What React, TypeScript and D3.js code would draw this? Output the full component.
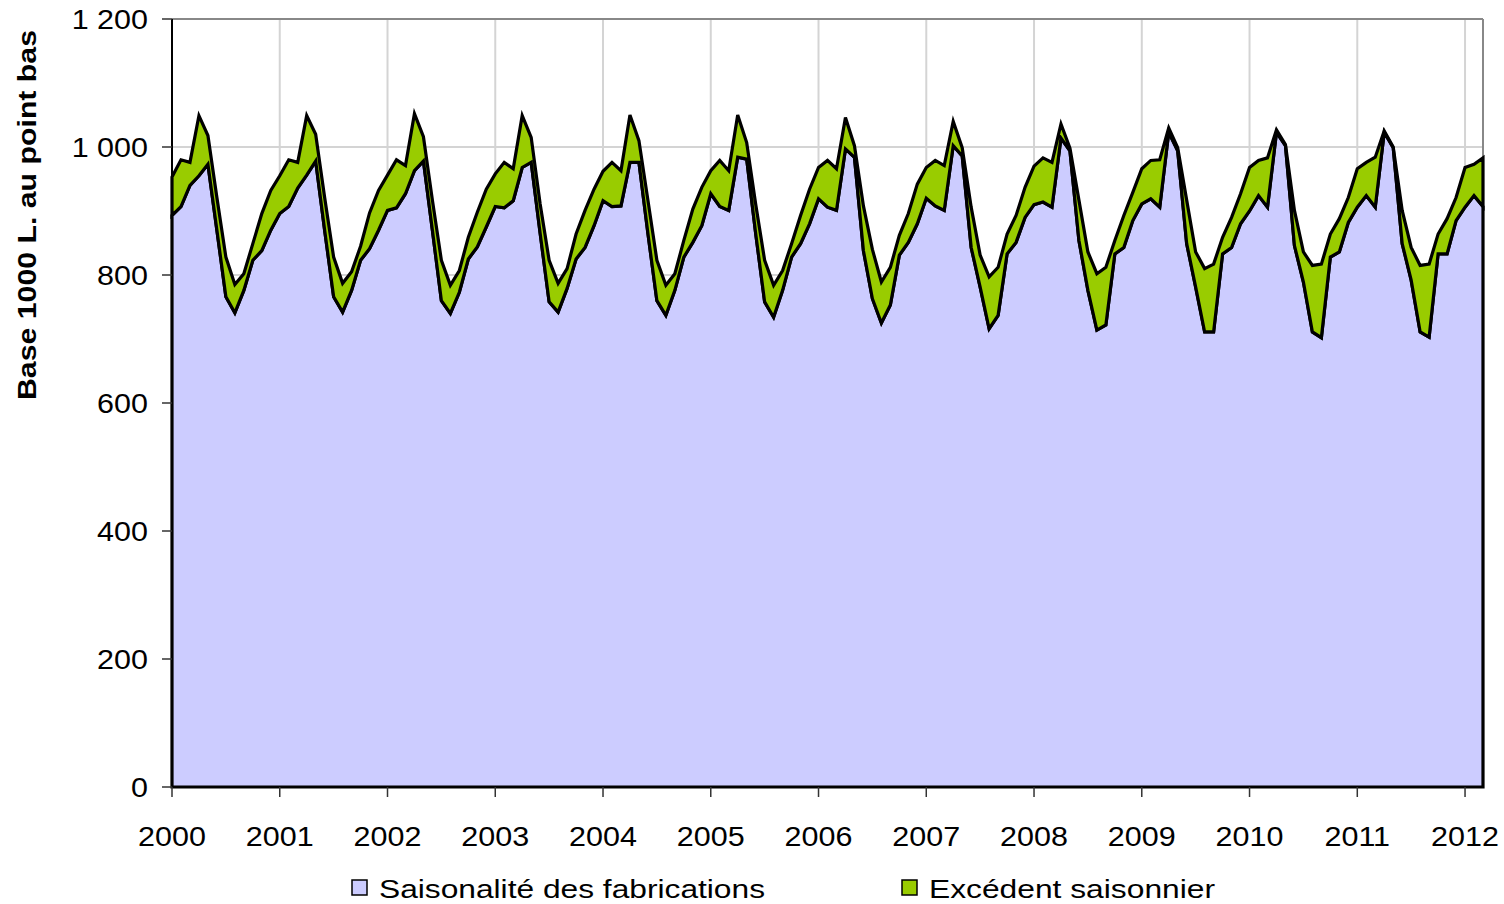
import React from "react";
import * as d3 from "d3";

// Monthly data, Jan 2000 – Mar 2012
const years = [2000, 2001, 2002, 2003, 2004, 2005, 2006, 2007, 2008, 2009, 2010, 2011, 2012];
const yTicks = [0, 200, 400, 600, 800, 1000, 1200];
const seriesNames = ["Saisonalité des fabrications", "Excédent saisonnier"];

// Top of the lower (purple) series
const fabrications = [
  893, 907, 940, 955, 973, 870, 766, 741, 776, 823, 838, 870,
  896, 907, 936, 956, 978, 870, 766, 742, 776, 823, 841, 870,
  901, 905, 927, 963, 978, 870, 760, 740, 773, 825, 844, 875,
  907, 905, 916, 968, 976, 865, 758, 742, 779, 825, 843, 877,
  916, 907, 908, 976, 976, 865, 760, 737, 776, 828, 851, 877,
  927, 907, 901, 984, 981, 865, 758, 734, 776, 828, 849, 880,
  919, 906, 901, 997, 984, 838, 763, 725, 753, 831, 851, 880,
  920, 908, 901, 1002, 986, 843, 781, 716, 737, 833, 851, 890,
  910, 914, 906, 1014, 994, 854, 776, 714, 722, 833, 843, 885,
  911, 919, 906, 1023, 994, 849, 781, 711, 711, 833, 843, 880,
  900, 924, 906, 1023, 1002, 846, 789, 711, 702, 828, 836, 882,
  906, 924, 906, 1023, 999, 849, 792, 711, 703, 833, 833, 885,
  906, 924, 907,
];

// Top of the stacked total (green)
const totals = [
  953, 980, 976, 1049, 1018, 921, 828, 785, 802, 849, 896, 932,
  955, 980, 976, 1049, 1020, 921, 828, 787, 805, 845, 897, 932,
  956, 980, 971, 1052, 1016, 917, 823, 784, 807, 859, 898, 934,
  958, 976, 966, 1049, 1015, 911, 823, 787, 810, 864, 901, 934,
  962, 976, 963, 1050, 1010, 917, 823, 784, 802, 854, 903, 937,
  963, 979, 963, 1050, 1007, 911, 823, 784, 807, 849, 893, 934,
  968, 979, 966, 1046, 1002, 908, 840, 789, 812, 862, 896, 942,
  968, 979, 971, 1040, 999, 906, 831, 797, 812, 864, 893, 937,
  970, 983, 976, 1036, 998, 917, 836, 802, 812, 854, 893, 929,
  966, 979, 980, 1030, 999, 917, 836, 810, 817, 859, 890, 927,
  968, 979, 983, 1027, 1004, 901, 836, 815, 817, 864, 888, 921,
  966, 976, 984, 1025, 1000, 901, 843, 815, 817, 864, 888, 921,
  968, 973, 983,
];

const excedent = totals.map((t, i) => Math.max(0, t - fabrications[i]));

const W = 1504;
const H = 904;
const left = 172;
const right = 1483;
const top = 19;
const bottom = 787;
const FONT = "'Liberation Sans', Arial, sans-serif";
const PURPLE = "#CCCCFF";
const GREEN = "#99CC00";
const SX = 1.09; // horizontal stretch of the axis labels

export default function App() {
  const n = fabrications.length;
  const x = d3.scaleLinear().domain([0, n - 1]).range([left, right]);
  const y = d3.scaleLinear().domain([0, 1200]).range([bottom, top]);

  const idx = d3.range(n);
  const areaBase = d3
    .area<number>()
    .x((i) => x(i))
    .y0(() => y(0))
    .y1((i) => y(fabrications[i]));
  const areaTop = d3
    .area<number>()
    .x((i) => x(i))
    .y0((i) => y(fabrications[i]))
    .y1((i) => y(fabrications[i] + excedent[i]));

  const fmt = (v: number) => d3.format(",")(v).replace(/,/g, " ");

  return (
    <svg
      width={W}
      height={H}
      style={{ position: "absolute", left: 0, top: 0, background: "#fff" }}
    >
      {/* gridlines */}
      {yTicks.filter((t) => t > 0 && t < 1200).map((t) => (
        <line key={"gy" + t} x1={left} x2={right} y1={y(t)} y2={y(t)} stroke="#d4d4d4" strokeWidth={2} />
      ))}
      {years.map((yr, k) => (
        <line key={"gx" + yr} x1={x(k * 12)} x2={x(k * 12)} y1={top} y2={bottom} stroke="#d4d4d4" strokeWidth={2} />
      ))}
      {/* plot border top/right */}
      <line x1={left} x2={right} y1={top} y2={top} stroke="#888" strokeWidth={2} />
      <line x1={right} x2={right} y1={top} y2={bottom} stroke="#888" strokeWidth={2} />

      {/* areas */}
      <path d={areaBase(idx) || ""} fill={PURPLE} stroke="#000" strokeWidth={3.2} strokeLinejoin="miter" />
      <path d={areaTop(idx) || ""} fill={GREEN} stroke="#000" strokeWidth={3.2} strokeLinejoin="miter" />

      {/* axes */}
      <line x1={left} x2={left} y1={top} y2={bottom} stroke="#000" strokeWidth={2} />
      <line x1={left} x2={right} y1={bottom} y2={bottom} stroke="#000" strokeWidth={2} />
      {yTicks.map((t) => (
        <g key={"yt" + t}>
          <line x1={left - 10} x2={left} y1={y(t)} y2={y(t)} stroke="#333" strokeWidth={1.5} />
          <text
            transform={`translate(148,${y(t)}) scale(${SX},1)`}
            dy="0.35em"
            textAnchor="end"
            fontFamily={FONT}
            fontSize={28}
            fill="#000"
          >
            {fmt(t)}
          </text>
        </g>
      ))}
      {years.map((yr, k) => (
        <g key={"xt" + yr}>
          <line x1={x(k * 12)} x2={x(k * 12)} y1={bottom} y2={bottom + 10} stroke="#333" strokeWidth={1.5} />
          <text
            transform={`translate(${x(k * 12)},846) scale(${SX},1)`}
            textAnchor="middle"
            fontFamily={FONT}
            fontSize={28}
            fill="#000"
          >
            {yr}
          </text>
        </g>
      ))}

      {/* y axis title */}
      <text
        transform={`translate(36,215) rotate(-90)`}
        textAnchor="middle"
        fontFamily={FONT}
        fontWeight="bold"
        fontSize={25}
        fill="#000"
        textLength={370}
        lengthAdjust="spacingAndGlyphs"
      >
        Base 1000 L. au point bas
      </text>

      {/* legend */}
      <rect x={352} y={880} width={15} height={15} fill={PURPLE} stroke="#000" strokeWidth={1.5} />
      <text
        x={379}
        y={898}
        fontFamily={FONT}
        fontSize={26}
        fill="#000"
        textLength={386}
        lengthAdjust="spacingAndGlyphs"
      >
        {seriesNames[0]}
      </text>
      <rect x={902} y={880} width={15} height={15} fill={GREEN} stroke="#000" strokeWidth={1.5} />
      <text
        x={929}
        y={898}
        fontFamily={FONT}
        fontSize={26}
        fill="#000"
        textLength={286}
        lengthAdjust="spacingAndGlyphs"
      >
        {seriesNames[1]}
      </text>
    </svg>
  );
}
